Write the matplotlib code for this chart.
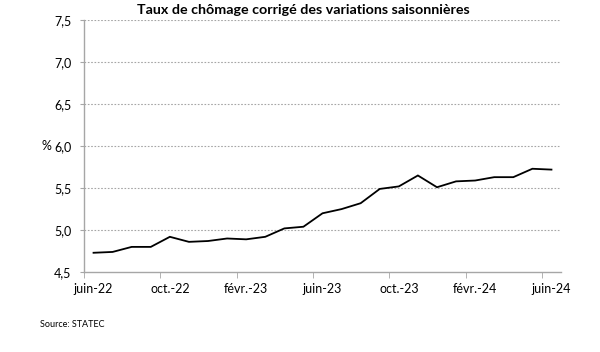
import matplotlib
matplotlib.use("Agg")
from matplotlib import pyplot as plt
from matplotlib.ticker import FixedLocator, FuncFormatter


FIGURE_SIZE = [6.0, 3.52]
FONT = "Lato"
GRID_COLOR = "#a6a6a6"
AXIS_COLOR = "#a6a6a6"

# Data ########################################################################

months = ["juin-22", "juil.-22", "août-22", "sept.-22", "oct.-22", "nov.-22",
          "déc.-22", "janv.-23", "févr.-23", "mars-23", "avr.-23", "mai-23",
          "juin-23", "juil.-23", "août-23", "sept.-23", "oct.-23", "nov.-23",
          "déc.-23", "janv.-24", "févr.-24", "mars-24", "avr.-24", "mai-24",
          "juin-24"]
rate = [4.73, 4.74, 4.80, 4.80, 4.92, 4.86, 4.87, 4.90, 4.89, 4.92, 5.02, 5.04,
        5.20, 5.25, 5.32, 5.49, 5.52, 5.65, 5.51, 5.58, 5.59, 5.63, 5.63, 5.73,
        5.72]
y_ticks = [4.5, 5.0, 5.5, 6.0, 6.5, 7.0, 7.5]

TITLE = "Taux de chômage corrigé des variations saisonnières"
SOURCE = "Source: STATEC"


def main():
    plt.rcParams["font.family"] = [FONT, "DejaVu Sans"]
    fig = plt.figure(figsize=FIGURE_SIZE, dpi=100)
    ax = fig.add_axes([0.14, 0.227, 0.795, 0.716])

    xs = list(range(len(months)))
    ax.plot(xs, rate, c="black", lw=1.3, solid_joinstyle="miter")

    # axis limits
    ax.set_xlim(-0.5, len(months) - 0.5)
    ax.set_ylim(y_ticks[0], y_ticks[-1])

    # x axis: labels every 4 months, tick marks between categories
    ax.xaxis.set_major_locator(FixedLocator(xs[::4]))
    ax.set_xticklabels(months[::4])
    ax.xaxis.set_minor_locator(FixedLocator([x - 0.5 for x in xs[::4]]))
    ax.tick_params(axis="x", which="major", length=0, pad=8, labelsize=9)
    ax.tick_params(axis="x", which="minor", length=4, color=AXIS_COLOR,
                   direction="out")

    # y axis
    ax.yaxis.set_major_locator(FixedLocator(y_ticks))
    ax.yaxis.set_major_formatter(FuncFormatter(lambda v, p: "{:.1f}".format(v).replace(".", ",")))
    ax.tick_params(axis="y", which="major", length=3, color=AXIS_COLOR,
                   labelsize=9, pad=6)

    # grid & spines
    for y in y_ticks[1:]:
        ax.axhline(y, color=GRID_COLOR, lw=0.8, ls=(0, (1.5, 1.5)), zorder=0)
    for s in ["top", "right"]:
        ax.spines[s].set_visible(False)
    for s in ["left", "bottom"]:
        ax.spines[s].set_color(AXIS_COLOR)
        ax.spines[s].set_linewidth(1.0)

    # texts
    fig.text(0.505, 0.972, TITLE, ha="center", va="center", fontsize=10.3,
             fontweight="bold")
    ax.text(-0.078, 6.0, "%", transform=ax.get_yaxis_transform(), ha="center",
            va="center", fontsize=9)
    fig.text(0.067, 0.077, SOURCE, ha="left", va="center", fontsize=6.5)

    fig.savefig("out.png", dpi=100)


if __name__ == "__main__":
    main()
